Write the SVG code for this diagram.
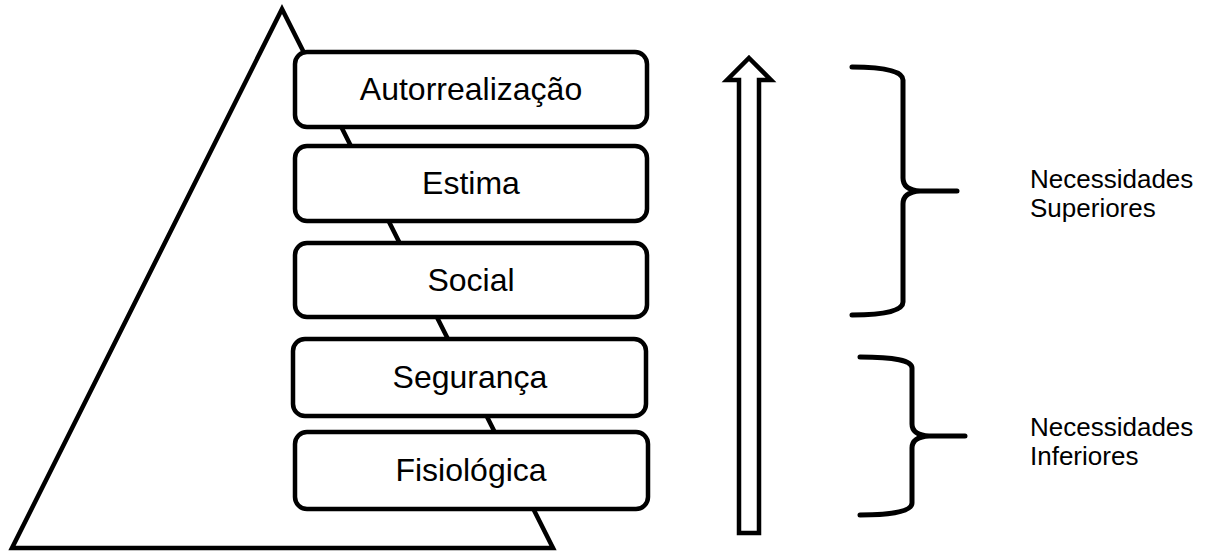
<svg xmlns="http://www.w3.org/2000/svg" width="1207" height="552" viewBox="0 0 1207 552">
<style>
.ln{fill:none;stroke:#000;stroke-width:4.5;stroke-linejoin:miter}
.box{fill:#fff;stroke:#000;stroke-width:4.5}
.lbl{font-family:"Liberation Sans",Arial,sans-serif;font-size:32px;fill:#000;text-anchor:middle}
.side{font-family:"Liberation Sans",Arial,sans-serif;font-size:26px;fill:#000}
.brace{fill:none;stroke:#000;stroke-width:5;stroke-linecap:round;stroke-linejoin:round}
</style>
<rect width="1207" height="552" fill="#fff"/>
<g id="pyramid">
<polygon class="ln" points="282,9 553,548 12,548"/>
</g>
<g id="autorrealizacao">
<rect class="box" x="295" y="52" width="352" height="75" rx="12"/>
<text class="lbl" x="471" y="100">Autorrealização</text>
</g>
<g id="estima">
<rect class="box" x="295" y="146" width="352" height="75" rx="12"/>
<text class="lbl" x="471" y="194">Estima</text>
</g>
<g id="social">
<rect class="box" x="295" y="243" width="352" height="74" rx="12"/>
<text class="lbl" x="471" y="291">Social</text>
</g>
<g id="seguranca">
<rect class="box" x="293" y="339" width="353" height="77" rx="12"/>
<text class="lbl" x="470" y="388">Segurança</text>
</g>
<g id="fisiologica">
<rect class="box" x="295" y="432" width="353" height="77" rx="12"/>
<text class="lbl" x="471" y="481">Fisiológica</text>
</g>
<g id="connectors">
<polygon class="ln" points="749,58 771,80 759,80 759,533 739,533 739,80 727,80"/>
</g>
<g id="superiores">
<path class="brace" d="M852,67 Q903,67 903,80 L903,178 Q903,190 920,191 L957,191 M920,191 Q903,192 903,204 L903,302 Q903,315 852,315"/>
<text class="side" x="1030" y="188">Necessidades</text>
<text class="side" x="1030" y="217">Superiores</text>
</g>
<g id="inferiores">
<path class="brace" d="M860,357 Q912,357 912,368 L912,424 Q912,435 929,436 L965,436 M929,436 Q912,437 912,448 L912,503 Q912,515 860,515"/>
<text class="side" x="1030" y="436">Necessidades</text>
<text class="side" x="1030" y="465">Inferiores</text>
</g>
</svg>
